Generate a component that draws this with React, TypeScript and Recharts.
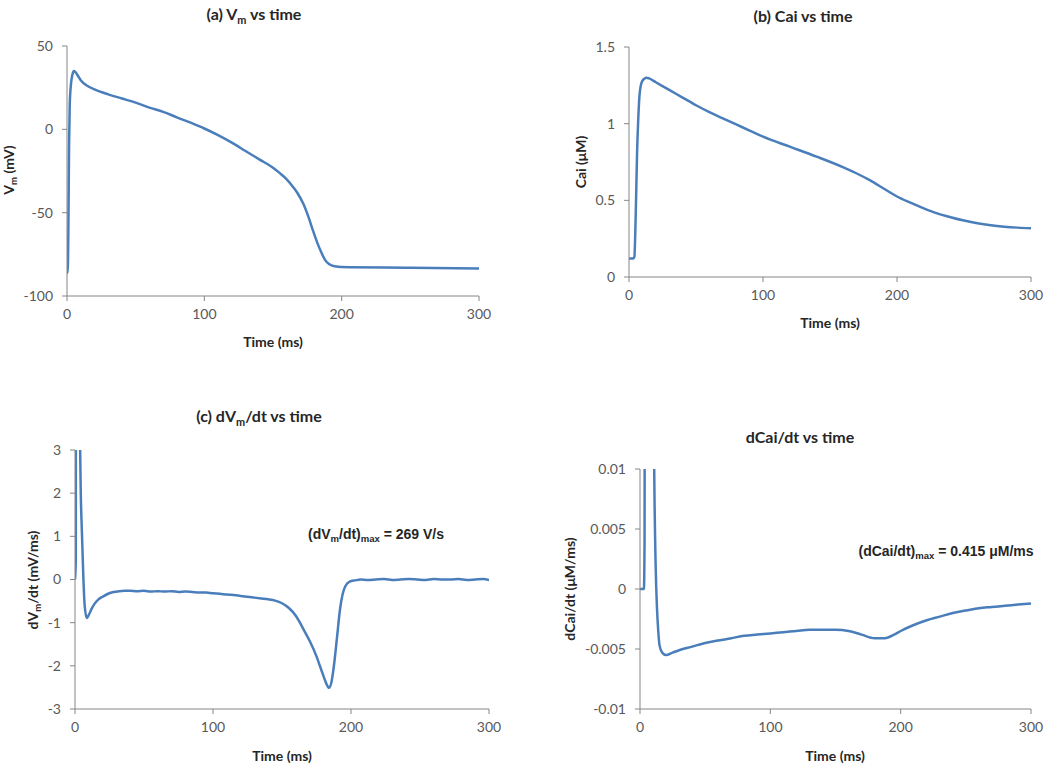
import React from "react";
import { LineChart, Line, XAxis, YAxis } from "recharts";

// time axis ticks shared by all four panels
const TIME_TICKS = [0, 100, 200, 300];

// (a) membrane potential
const vmTime = [0, 0.5, 1, 1.5, 2, 3, 4, 5, 6, 8, 10, 15, 20, 30, 40, 50, 60, 70, 80, 90, 100, 110, 120, 130, 140, 150, 155, 160, 165, 168, 172, 176, 179, 182, 185, 188, 191, 195, 200, 250, 300];
const vmValues = [-86, -86, -60, -10, 15, 28, 33, 35, 34.5, 32, 29.5, 26, 24, 21, 18.5, 16, 13, 10.5, 7.2, 4, 0.5, -3.5, -8, -13, -18, -23, -26.3, -30, -35, -38.5, -44.5, -53, -60.5, -67.5, -73.5, -78.5, -81, -82.2, -82.6, -83, -83.5];
const vmTicks = [-100, -50, 0, 50];

// (b) intracellular calcium
const caiTime = [0, 3, 4, 5, 6, 7, 8, 10, 13, 15, 20, 30, 40, 50, 60, 70, 80, 90, 100, 120, 140, 160, 170, 180, 190, 200, 210, 220, 230, 240, 250, 260, 270, 280, 290, 300];
const caiValues = [0.12, 0.12, 0.13, 0.4, 0.8, 1.05, 1.2, 1.28, 1.3, 1.295, 1.27, 1.22, 1.17, 1.12, 1.075, 1.035, 0.995, 0.955, 0.915, 0.85, 0.785, 0.715, 0.675, 0.63, 0.577, 0.525, 0.485, 0.448, 0.415, 0.39, 0.368, 0.35, 0.337, 0.328, 0.322, 0.318];
const caiTicks = [0, 0.5, 1, 1.5];

// (c) dVm/dt
const dvTime = [0, 0.6, 1, 1.5, 2, 2.5, 3, 3.5, 4, 5, 6, 7, 8.5, 10, 12, 14, 17, 20, 24, 28, 32, 36, 40, 45, 50, 55, 60, 65, 70, 75, 80, 85, 90, 95, 100, 105, 110, 115, 120, 125, 130, 135, 140, 145, 150, 155, 160, 163, 166, 170, 175, 178, 181, 183, 184, 186, 188, 190, 192, 194, 196, 199, 203, 207, 212, 218, 224, 230, 236, 242, 248, 254, 260, 266, 272, 278, 284, 290, 296, 300];
const dvValues = [0, 0.5, 100, 269, 200, 80, 20, 4, 2.4, 1.1, 0.1, -0.6, -0.89, -0.82, -0.68, -0.57, -0.46, -0.4, -0.33, -0.29, -0.27, -0.26, -0.26, -0.27, -0.26, -0.28, -0.27, -0.28, -0.27, -0.29, -0.28, -0.29, -0.3, -0.3, -0.32, -0.33, -0.35, -0.36, -0.38, -0.4, -0.42, -0.44, -0.46, -0.49, -0.55, -0.66, -0.84, -1.0, -1.18, -1.42, -1.78, -2.05, -2.32, -2.47, -2.51, -2.35, -1.9, -1.3, -0.7, -0.33, -0.15, -0.05, -0.02, 0, -0.01, 0, 0.01, -0.01, 0, 0.01, 0, -0.01, 0.01, 0, 0, 0.01, -0.01, 0, 0.01, -0.01];
const dvTicks = [-3, -2, -1, 0, 1, 2, 3];

// (d) dCai/dt
const dcTime = [0, 3, 3.5, 4, 5, 6, 7, 8, 9, 10, 11, 12, 13, 14, 15, 17, 20, 25, 30, 40, 50, 60, 70, 80, 90, 100, 110, 120, 130, 140, 150, 160, 170, 180, 188, 195, 200, 210, 220, 230, 240, 250, 260, 270, 280, 290, 300];
const dcValues = [0, 0, 0.004, 0.05, 0.3, 0.415, 0.33, 0.18, 0.07, 0.025, 0.009, 0.002, -0.0015, -0.0035, -0.0047, -0.0053, -0.0055, -0.0053, -0.0051, -0.0048, -0.0045, -0.0043, -0.0041, -0.0039, -0.0038, -0.0037, -0.0036, -0.0035, -0.0034, -0.0034, -0.0034, -0.0035, -0.0038, -0.0041, -0.0041, -0.0038, -0.0035, -0.003, -0.0026, -0.0023, -0.002, -0.0018, -0.0016, -0.0015, -0.0014, -0.0013, -0.0012];
const dcTicks = [-0.01, -0.005, 0, 0.005, 0.01];

const toRows = (ts: number[], vs: number[]) => ts.map((t, i) => ({ t, v: vs[i] }));

const LINE = "#4a7ebb";
const AXIS = "#868686";
const TICK_FONT = { fontFamily: "Lato, 'Open Sans', sans-serif", fontSize: 14, fill: "#595959" };
const YW = 45;
const XH = 25;

function Panel({ rows, yDomain, yTicks, box, plot }: any) {
  const margin = {
    left: plot.l - box.x - YW,
    top: plot.t - box.y,
    right: box.x + box.w - plot.r,
    bottom: box.y + box.h - plot.b - XH,
  };
  return (
    <div style={{ position: "absolute", left: box.x, top: box.y }}>
      <LineChart width={box.w} height={box.h} data={rows} margin={margin}>
        <XAxis
          dataKey="t"
          type="number"
          domain={[0, 300]}
          ticks={TIME_TICKS}
          height={XH}
          stroke={AXIS}
          tickSize={5}
          tickMargin={8}
          tick={TICK_FONT}
          allowDataOverflow
        />
        <YAxis
          type="number"
          domain={yDomain}
          ticks={yTicks}
          width={YW}
          stroke={AXIS}
          tickSize={5}
          tickMargin={9}
          tick={TICK_FONT}
          allowDataOverflow
        />
        <Line
          dataKey="v"
          type="monotone"
          stroke={LINE}
          strokeWidth={2.5}
          dot={false}
          isAnimationActive={false}
        />
      </LineChart>
    </div>
  );
}

function Txt({ x, y, size = 14, bold = true, rotate = false, family, children }: any) {
  return (
    <div
      style={{
        position: "absolute",
        left: x,
        top: y,
        transform: `translate(-50%, -50%)${rotate ? " rotate(-90deg)" : ""}`,
        whiteSpace: "nowrap",
        fontFamily: family || "Lato, 'Open Sans', sans-serif",
        fontSize: size,
        fontWeight: bold ? 700 : 400,
        color: "#262626",
        lineHeight: 1,
      }}
    >
      {children}
    </div>
  );
}

const Sub = ({ children }: any) => (
  <span style={{ fontSize: "0.68em", verticalAlign: "-0.3em" }}>{children}</span>
);

export default function App() {
  return (
    <div style={{ position: "absolute", left: 0, top: 0, width: 1050, height: 766, background: "#fff", overflow: "hidden" }}>

      {/* (a) Vm */}
      <Panel
        rows={toRows(vmTime, vmValues)}
        yDomain={[-100, 50]}
        yTicks={vmTicks}
        box={{ x: 0, y: 0, w: 520, h: 330 }}
        plot={{ l: 67, t: 46, r: 479, b: 296 }}
      />
      <Txt x={254} y={16} size={16}>(a) V<Sub>m</Sub> vs time</Txt>
      <Txt x={273} y={342}>Time (ms)</Txt>
      <Txt x={10} y={170} rotate>V<Sub>m</Sub> (mV)</Txt>

      {/* (b) Cai */}
      <Panel
        rows={toRows(caiTime, caiValues)}
        yDomain={[0, 1.5]}
        yTicks={caiTicks}
        box={{ x: 520, y: 0, w: 530, h: 330 }}
        plot={{ l: 629, t: 47, r: 1031, b: 277 }}
      />
      <Txt x={803} y={16} size={16}>(b) Cai vs time</Txt>
      <Txt x={830} y={323}>Time (ms)</Txt>
      <Txt x={581} y={162} rotate>Cai (μM)</Txt>

      {/* (c) dVm/dt */}
      <Panel
        rows={toRows(dvTime, dvValues)}
        yDomain={[-3, 3]}
        yTicks={dvTicks}
        box={{ x: 0, y: 380, w: 520, h: 386 }}
        plot={{ l: 75, t: 450, r: 489, b: 709 }}
      />
      <Txt x={259} y={418} size={16}>(c) dV<Sub>m</Sub>/dt vs time</Txt>
      <Txt x={282} y={756}>Time (ms)</Txt>
      <Txt x={34} y={580} rotate>dV<Sub>m</Sub>/dt (mV/ms)</Txt>
      <Txt x={376} y={535} size={14} family="'Liberation Sans', Arial, sans-serif">
        (dV<Sub>m</Sub>/dt)<Sub>max</Sub> = 269 V/s
      </Txt>

      {/* (d) dCai/dt */}
      <Panel
        rows={toRows(dcTime, dcValues)}
        yDomain={[-0.01, 0.01]}
        yTicks={dcTicks}
        box={{ x: 520, y: 380, w: 530, h: 386 }}
        plot={{ l: 640, t: 469, r: 1031, b: 709 }}
      />
      <Txt x={800} y={437} size={16}>dCai/dt vs time</Txt>
      <Txt x={835} y={756}>Time (ms)</Txt>
      <Txt x={570} y={589} rotate>dCai/dt (μM/ms)</Txt>
      <Txt x={946} y={552} size={14} family="'Liberation Sans', Arial, sans-serif">
        (dCai/dt)<Sub>max</Sub> = 0.415 μM/ms
      </Txt>
    </div>
  );
}
